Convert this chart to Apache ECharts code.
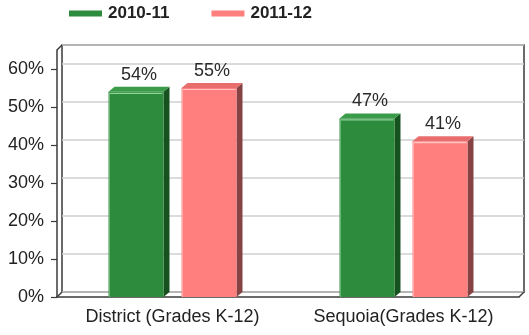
<!DOCTYPE html>
<html>
<head>
<meta charset="utf-8">
<title>Grades K-12</title>
<script src="https://cdn.jsdelivr.net/npm/echarts@6/dist/echarts.min.js"></script>
<style>
  html, body { margin: 0; padding: 0; background: #fff; }
  #chart { width: 529px; height: 335px; }
</style>
</head>
<body>
<div id="chart"></div>
<script>
// Categories, series and axis ticks
const categories = ['District (Grades K-12)', 'Sequoia(Grades K-12)'];
const seriesNames = ['2010-11', '2011-12'];
const values2010 = [54, 47];
const values2011 = [55, 41];
const yTicks = [0, 10, 20, 30, 40, 50, 60];

const FONT = 'Liberation Sans, Arial, sans-serif';
const DEPTH_X = 6;
const DEPTH_Y = 5;

// Face colours for each series: front, side, top
const palettes = [
  { front: '#2C8B3C', side: '#15521F', top: '#3A9B48', light: '#8fd29a' },
  { front: '#FF7F7F', side: '#874343', top: '#E86E6E', light: '#ffc4c4' }
];

// Extruded bar with a darker side and a lighter top
function makeBarRenderer(idx) {
  const pal = palettes[idx];
  return function (params, api) {
    const cat = api.value(0);
    const val = api.value(1);
    const base = api.coord([cat, 0]);
    const top = api.coord([cat, val]);
    const band = api.size([1, 0])[0];
    const w = band * 0.238;
    const off = (idx === 0 ? -1 : 1) * band * 0.158;
    const x0 = base[0] + off - w / 2;
    const x1 = x0 + w;
    const yb = base[1];
    const yt = top[1];
    return {
      type: 'group',
      children: [
        {
          type: 'polygon',
          shape: { points: [[x1, yt], [x1 + DEPTH_X, yt - DEPTH_Y], [x1 + DEPTH_X, yb - DEPTH_Y], [x1, yb]] },
          style: { fill: pal.side }
        },
        {
          type: 'polygon',
          shape: { points: [[x0, yt], [x0 + DEPTH_X, yt - DEPTH_Y], [x1 + DEPTH_X, yt - DEPTH_Y], [x1, yt]] },
          style: { fill: pal.top }
        },
        {
          type: 'rect',
          shape: { x: x0, y: yt, width: w, height: yb - yt },
          style: { fill: pal.front }
        },
        {
          type: 'line',
          shape: { x1: x0 + 1, y1: yt + 1.5, x2: x1 - 1, y2: yt + 1.5 },
          style: { stroke: pal.light, lineWidth: 1.2 }
        },
        {
          type: 'line',
          shape: { x1: x0 + 1, y1: yt + 1.5, x2: x0 + 1, y2: yb },
          style: { stroke: pal.light, lineWidth: 1, opacity: 0.6 }
        },
        {
          type: 'text',
          style: {
            text: val + '%',
            x: (x0 + x1 + DEPTH_X) / 2,
            y: yt - DEPTH_Y - 3,
            align: 'center',
            verticalAlign: 'bottom',
            fill: '#2a2a2a',
            font: '18px ' + FONT
          }
        }
      ]
    };
  };
}

// Depth edges joining the front axes to the back wall
function renderFrame(params, api) {
  const cs = params.coordSys;
  const l = cs.x, r = cs.x + cs.width, t = cs.y, b = cs.y + cs.height;
  const st = { stroke: '#3a3a3a', lineWidth: 1.5 };
  return {
    type: 'group',
    children: [
      { type: 'line', shape: { x1: l, y1: t, x2: l + 5, y2: t - 5 }, style: st },
      { type: 'line', shape: { x1: l, y1: b, x2: l + 5, y2: b - 5 }, style: st },
      { type: 'line', shape: { x1: r, y1: b, x2: r + 5, y2: b - 5 }, style: st }
    ]
  };
}

const chart = echarts.init(document.getElementById('chart'), null, { renderer: 'canvas' });

chart.setOption({
  backgroundColor: '#ffffff',
  animation: false,
  textStyle: { fontFamily: FONT },
  legend: {
    data: [
      { name: seriesNames[0], icon: 'rect' },
      { name: seriesNames[1], icon: 'rect' }
    ],
    left: 69,
    top: 5,
    padding: 0,
    itemWidth: 33,
    itemHeight: 6,
    itemGap: 42,
    textStyle: { fontSize: 17, fontWeight: 'bold', color: '#222', fontFamily: FONT, padding: [0, 0, 0, 1] }
  },
  grid: [
    // back wall
    { left: 62, right: 5, top: 45, bottom: 43, show: true, borderColor: '#3a3a3a', borderWidth: 1.5, backgroundColor: '#fff' },
    // front axes
    { left: 57, right: 10, top: 50, bottom: 38 }
  ],
  xAxis: [
    {
      gridIndex: 0, type: 'category', data: categories, show: false
    },
    {
      gridIndex: 1, type: 'category', data: categories,
      axisLine: { lineStyle: { color: '#3a3a3a', width: 1.5 } },
      axisTick: { alignWithLabel: true, interval: 0, length: 5, lineStyle: { color: '#3a3a3a', width: 1.2 } },
      axisLabel: { interval: 0, fontSize: 18, color: '#222', margin: 11, fontFamily: FONT }
    }
  ],
  yAxis: [
    {
      gridIndex: 0, type: 'value', min: 0, max: 65, interval: 10,
      axisLine: { show: false }, axisTick: { show: false }, axisLabel: { show: false },
      splitLine: { lineStyle: { color: '#cfcfcf', width: 1.5 } }
    },
    {
      gridIndex: 1, type: 'value', min: 0, max: 65, interval: 10,
      axisLine: { show: true, lineStyle: { color: '#3a3a3a', width: 1.5 } },
      axisTick: { show: true, length: 6, customValues: yTicks, lineStyle: { color: '#3a3a3a', width: 1.2 } },
      axisLabel: { customValues: yTicks, formatter: '{value}%', fontSize: 18, color: '#222', margin: 13, fontFamily: FONT },
      splitLine: { show: false }
    }
  ],
  series: [
    {
      name: 'frame', type: 'custom', xAxisIndex: 1, yAxisIndex: 1,
      renderItem: renderFrame, data: [[0, 0]], silent: true, z: 1
    },
    {
      name: seriesNames[0], type: 'custom', xAxisIndex: 1, yAxisIndex: 1,
      itemStyle: { color: palettes[0].front },
      renderItem: makeBarRenderer(0),
      data: values2010.map((v, i) => [i, v]), z: 3
    },
    {
      name: seriesNames[1], type: 'custom', xAxisIndex: 1, yAxisIndex: 1,
      itemStyle: { color: palettes[1].front },
      renderItem: makeBarRenderer(1),
      data: values2011.map((v, i) => [i, v]), z: 3
    }
  ]
});
</script>
</body>
</html>
